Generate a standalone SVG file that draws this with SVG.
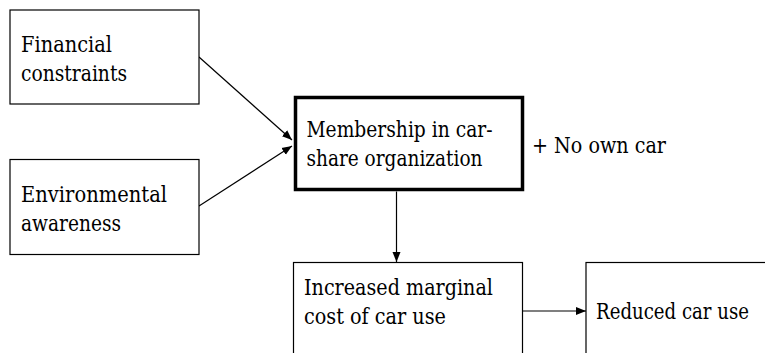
<svg xmlns="http://www.w3.org/2000/svg" width="765" height="353" viewBox="0 0 765 353">
  <style>
    .box { fill: #fff; stroke: #000; stroke-width: 1.2; }
    .box-strong { fill: #fff; stroke: #000; stroke-width: 3.5; }
    .label { font-family: 'DejaVu Serif', serif; font-size: 23px; fill: #000; }
    .link { stroke: #000; stroke-width: 1.2; fill: none; marker-end: url(#arrow); }
  </style>
  <defs>
    <marker id="arrow" viewBox="0 0 10 10" refX="10" refY="5" markerUnits="userSpaceOnUse" markerWidth="10" markerHeight="10" orient="auto">
      <path d="M0,1 L10,5 L0,9 Z" fill="#000"/>
    </marker>
  </defs>
  <rect width="765" height="353" fill="#fff"/>

  <g id="connectors">
    <line class="link" x1="199" y1="57" x2="292" y2="140"/>
    <line class="link" x1="199" y1="206" x2="292" y2="146"/>
    <line class="link" x1="396.5" y1="191.5" x2="396.5" y2="262"/>
    <line class="link" x1="523" y1="311" x2="586" y2="311"/>
  </g>

  <g id="financial-constraints">
    <rect class="box" x="10" y="10" width="189" height="94"/>
    <text class="label" x="21" y="52" textLength="91" lengthAdjust="spacingAndGlyphs">Financial</text>
    <text class="label" x="21" y="81" textLength="106" lengthAdjust="spacingAndGlyphs">constraints</text>
  </g>

  <g id="environmental-awareness">
    <rect class="box" x="10" y="159.5" width="189" height="95"/>
    <text class="label" x="21" y="202" textLength="146" lengthAdjust="spacingAndGlyphs">Environmental</text>
    <text class="label" x="21" y="231" textLength="100" lengthAdjust="spacingAndGlyphs">awareness</text>
  </g>

  <g id="membership">
    <rect class="box-strong" x="295.5" y="97.5" width="227" height="92"/>
    <text class="label" x="306.5" y="137" textLength="186" lengthAdjust="spacingAndGlyphs">Membership in car-</text>
    <text class="label" x="306.5" y="166" textLength="176" lengthAdjust="spacingAndGlyphs">share organization</text>
  </g>

  <g id="no-own-car">
    <text class="label" x="532" y="153" textLength="134" lengthAdjust="spacingAndGlyphs">+ No own car</text>
  </g>

  <g id="marginal-cost">
    <rect class="box" x="293.5" y="262.5" width="229" height="100"/>
    <text class="label" x="304" y="295" textLength="189" lengthAdjust="spacingAndGlyphs">Increased marginal</text>
    <text class="label" x="304" y="324" textLength="142" lengthAdjust="spacingAndGlyphs">cost of car use</text>
  </g>

  <g id="reduced-car-use">
    <rect class="box" x="586" y="262.5" width="190" height="100"/>
    <text class="label" x="596" y="318.5" textLength="153" lengthAdjust="spacingAndGlyphs">Reduced car use</text>
  </g>
</svg>
